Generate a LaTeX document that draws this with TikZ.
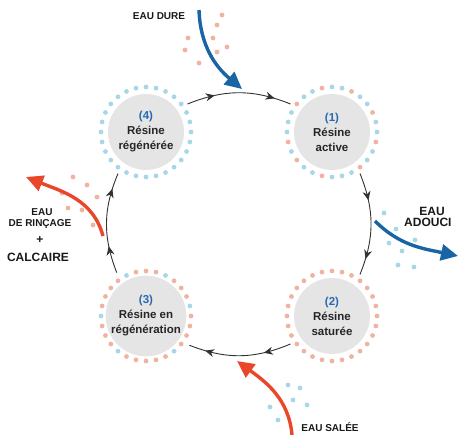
\documentclass[tikz,border=0pt]{standalone}
\usepackage{fontspec}
\setmainfont{Liberation Sans}
\usetikzlibrary{arrows.meta,decorations.markings}
\definecolor{dB}{RGB}{166,214,232}
\definecolor{dS}{RGB}{242,178,160}
\definecolor{discgray}{RGB}{229,229,229}
\definecolor{numblue}{RGB}{40,105,175}
\definecolor{flowblue}{RGB}{25,100,165}
\definecolor{flowred}{RGB}{234,70,42}
\definecolor{arcgray}{RGB}{50,50,50}
\newcommand\dotring[2]{%
  \foreach \c [count=\k from 0] in {#2} {\fill[\c] (#1.center) ++(\k*360/28+90:45) circle (2.4);}}
\begin{document}
\begin{tikzpicture}[x=1pt,y=1pt,
  stage/.style={circle, fill=discgray, minimum size=76pt, inner sep=0pt, outer sep=12pt,
    align=center, font=\bfseries\fontsize{11.5}{15}\selectfont, text=black!85},
  cyc/.style={draw=arcgray, line width=0.9pt, postaction={decorate},
    decoration={markings,
      mark=at position 0.27 with {\arrow{Stealth[length=9pt,width=8pt]}},
      mark=at position 0.84 with {\arrow{Stealth[length=9pt,width=8pt]}}}},
  flow/.style={line width=3.4pt, -{Triangle[length=17pt,width=16pt]}},
  lab/.style={font=\bfseries\fontsize{10}{12}\selectfont, align=center, inner sep=0pt, text=black!90},
  biglab/.style={font=\bfseries\fontsize{12}{14}\selectfont, inner sep=0pt, text=black!90}]
\useasboundingbox (0,0) rectangle (461,435);

% stages
\node[stage] (n1) at (332,303) {\textcolor{numblue}{(1)}\\Résine\\active};
\node[stage] (n2) at (332,119) {\textcolor{numblue}{(2)}\\Résine\\saturée};
\node[stage] (n3) at (146,119) {\textcolor{numblue}{(3)}\\Résine en\\régénération};
\node[stage] (n4) at (146,303) {\textcolor{numblue}{(4)}\\Résine\\régénérée};

\dotring{n1}{dB,dS,dB,dB,dS,dB,dB,dB,dS,dB,dS,dB,dB,dS,dB,dB,dB,dS,dB,dB,dS,dB,dB,dS,dB,dB,dS,dB}
\dotring{n2}{dS,dS,dS,dS,dS,dS,dS,dS,dS,dS,dS,dS,dS,dS,dS,dS,dS,dS,dS,dS,dS,dS,dS,dS,dS,dS,dS,dS}
\dotring{n3}{dS,dS,dB,dS,dS,dS,dS,dB,dS,dS,dS,dB,dS,dS,dS,dS,dS,dB,dS,dS,dS,dS,dB,dS,dS,dS,dB,dS}
\dotring{n4}{dB,dB,dB,dB,dB,dB,dB,dB,dB,dB,dB,dB,dB,dB,dB,dB,dB,dB,dB,dB,dB,dB,dB,dB,dB,dB,dB,dB}

% cycle arcs
\draw[cyc] (n4.34) to[bend left=22] (n1.146);
\draw[cyc] (n1.-56) to[bend left=22] (n2.56);
\draw[cyc] (n2.-146) to[bend left=22] (n3.-34);
\draw[cyc] (n3.124) to[bend left=22] (n4.-124);

% dots beside the flows
\foreach \p in {(217,410),(188,397),(213,397),(227,388),(185,385),(217,383),(199,372),(222,420)}
  \fill[dS] \p circle (2.4);
\foreach \p in {(384,222),(396,206),(389,192),(402,184),(415,195),(398,170),(414,168)}
  \fill[dB] \p circle (2.4);
\foreach \p in {(288,50),(300,47),(293,35),(307,30),(270,28),(278,15)}
  \fill[dB] \p circle (2.4);
\foreach \p in {(73,258),(87,250),(62,242),(68,227),(82,225),(97,238),(93,210)}
  \fill[dS] \p circle (2.4);

% flows
\coordinate (dureS) at (199,425);
\coordinate (dureE) at (242,346);
\draw[flow, flowblue] (dureS) to[out=-88, in=140] (dureE);
\coordinate (adS) at (375,214);
\coordinate (adE) at (458,179);
\draw[flow, flowblue] (adS) to[out=-45, in=168] (adE);
\coordinate (salS) at (292,0);
\coordinate (salE) at (237,74);
\draw[flow, flowred] (salS) to[out=95, in=-36] (salE);
\coordinate (calS) at (103,199);
\coordinate (calE) at (26,258);
\draw[flow, flowred] (calS) to[out=105, in=-22] (calE);

% labels
\node[lab] (tdure) at (159,419) {EAU DURE};
\node[biglab] (tad1) at (432,224) {EAU};
\node[biglab, anchor=west] (tad2) at (404,213) {ADOUCI};
\node[lab] (tsal) at (330,7.5) {EAU SALÉE};
\node[lab] (tri1) at (42,223) {EAU};
\node[lab] (tri2) at (40,211) {DE RINÇAGE};
\node[biglab] (tri3) at (40,195) {+};
\node[biglab] (tri4) at (38,178) {CALCAIRE};
\end{tikzpicture}
\end{document}
